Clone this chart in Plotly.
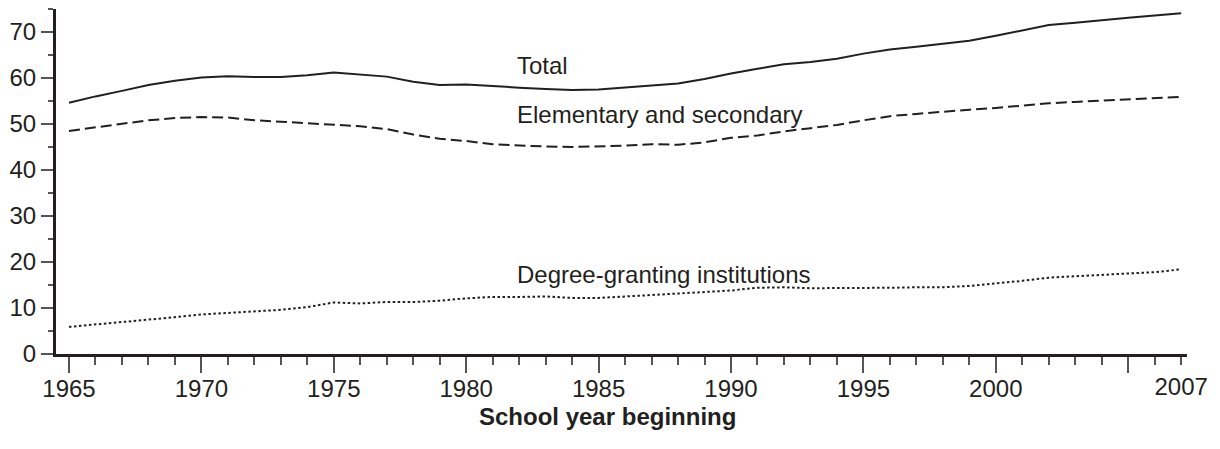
import plotly.graph_objects as go

years = list(range(1965, 2008))
total = [54.6, 56.0, 57.2, 58.5, 59.4, 60.1, 60.4, 60.2, 60.2, 60.6,
         61.2, 60.8, 60.3, 59.2, 58.5, 58.6, 58.2, 57.9, 57.6, 57.4,
         57.5, 57.9, 58.4, 58.8, 59.8, 61.0, 62.0, 63.0, 63.5, 64.2,
         65.3, 66.2, 66.8, 67.4, 68.1, 69.2, 70.4, 71.5, 72.0, 72.6,
         73.1, 73.6, 74.1]
elem_sec = [48.5, 49.3, 50.0, 50.8, 51.3, 51.5, 51.4, 50.8, 50.5, 50.2,
            49.9, 49.5, 48.9, 47.7, 46.8, 46.3, 45.6, 45.3, 45.1, 45.0,
            45.1, 45.3, 45.6, 45.5, 46.0, 47.0, 47.5, 48.4, 49.1, 49.8,
            50.8, 51.7, 52.2, 52.7, 53.1, 53.5, 54.0, 54.5, 54.8, 55.1,
            55.3, 55.6, 55.9]
degree = [5.9, 6.4, 6.9, 7.5, 8.0, 8.6, 8.9, 9.2, 9.6, 10.2,
          11.2, 11.0, 11.3, 11.3, 11.6, 12.1, 12.4, 12.4, 12.5, 12.2,
          12.2, 12.5, 12.8, 13.1, 13.5, 13.8, 14.4, 14.5, 14.3, 14.3,
          14.3, 14.4, 14.5, 14.5, 14.8, 15.3, 15.9, 16.6, 16.9, 17.3,
          17.5, 17.8, 18.4]

series_names = ["Total", "Elementary and secondary", "Degree-granting institutions"]
label_pos = [(1981.85, 62.8), (1981.85, 52.0), (1981.85, 17.2)]

x_tickvals = [1965, 1970, 1975, 1980, 1985, 1990, 1995, 2000, 2005]
x_ticktext = ["1965", "1970", "1975", "1980", "1985", "1990", "1995", "2000", ""]
last_tick = [2007]
last_text = ["2007"]
y_tickvals = [0, 10, 20, 30, 40, 50, 60, 70]
x_title = "School year beginning"

INK = "#231f20"
TICK = "#555555"
FONT = "Liberation Sans, Arial, Helvetica, sans-serif"
XR = [1964.51, 2007.22]

fig = go.Figure()
dashes = ["solid", "11px,5px", "2.5px,2.5px"]
for name, vals, dash in zip(series_names, [total, elem_sec, degree], dashes):
    fig.add_trace(go.Scatter(x=years, y=vals, mode="lines", name=name,
                             line=dict(color=INK, width=2, dash=dash),
                             showlegend=False))

# invisible trace carrying the overlay axis that shows the final year label
fig.add_trace(go.Scatter(x=last_tick, y=[0], xaxis="x2", mode="markers",
                         marker=dict(opacity=0), showlegend=False, hoverinfo="skip"))

for name, (lx, ly) in zip(series_names, label_pos):
    fig.add_annotation(x=lx, y=ly, xref="x", yref="y", text=name, showarrow=False,
                       xanchor="left", yanchor="middle",
                       font=dict(family=FONT, size=24, color=INK))

fig.add_annotation(x=1985.35, y=0, xref="x", yref="paper", yshift=-62,
                   text="<b>" + x_title + "</b>", showarrow=False,
                   xanchor="center", yanchor="middle",
                   font=dict(family=FONT, size=24, color=INK))

fig.update_layout(
    width=1220, height=449,
    margin=dict(l=45, r=41, t=1, b=103),
    paper_bgcolor="white", plot_bgcolor="white",
    font=dict(family=FONT, size=24, color=INK),
    xaxis=dict(range=XR, tickmode="array", tickvals=x_tickvals, ticktext=x_ticktext,
               ticks="outside", ticklen=16, tickwidth=1.5, tickcolor=TICK,
               ticklabelstandoff=-5,
               minor=dict(tick0=1965, dtick=1, ticks="outside", ticklen=8,
                          tickwidth=1.5, tickcolor=TICK),
               showline=True, linecolor=INK, linewidth=3, showgrid=False, zeroline=False,
               tickfont=dict(family=FONT, size=24, color=INK)),
    xaxis2=dict(range=XR, overlaying="x", anchor="y", side="bottom",
                tickmode="array", tickvals=last_tick, ticktext=last_text,
                ticks="outside", ticklen=16, tickcolor="rgba(0,0,0,0)",
                ticklabelstandoff=-5,
                showline=False, showgrid=False, zeroline=False,
                tickfont=dict(family=FONT, size=24, color=INK)),
    yaxis=dict(range=[0, 75], tickmode="array", tickvals=y_tickvals,
               ticks="outside", ticklen=12, tickwidth=1.5, tickcolor=TICK,
               minor=dict(tick0=0, dtick=5, ticks="outside", ticklen=5,
                          tickwidth=1.5, tickcolor=TICK),
               showline=True, linecolor=INK, linewidth=3, showgrid=False, zeroline=False,
               tickfont=dict(family=FONT, size=24, color=INK)),
)

fig.write_html("out.html")
